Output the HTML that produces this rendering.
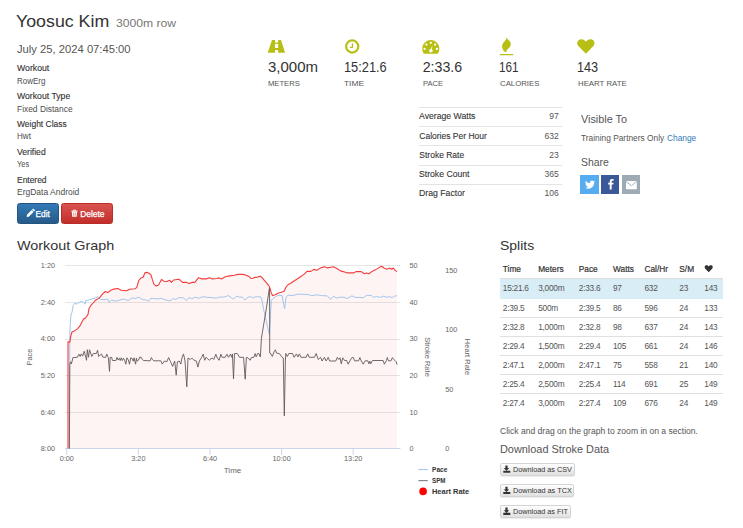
<!DOCTYPE html><html><head><meta charset="utf-8"><style>
html,body{margin:0;padding:0;background:#fff;width:743px;height:528px;overflow:hidden}
body{position:relative;font-family:"Liberation Sans",sans-serif}
.t{position:absolute;white-space:nowrap}
.a{position:absolute}
</style></head><body>
<div class="a" style="left:419px;top:107.0px;width:143px;height:1px;background:#e3e3e3"></div>
<div class="a" style="left:419px;top:126.2px;width:143px;height:1px;background:#e3e3e3"></div>
<div class="a" style="left:419px;top:145.4px;width:143px;height:1px;background:#e3e3e3"></div>
<div class="a" style="left:419px;top:164.5px;width:143px;height:1px;background:#e3e3e3"></div>
<div class="a" style="left:419px;top:184.0px;width:143px;height:1px;background:#e3e3e3"></div>
<div class="a" style="left:500px;top:277.7px;width:222.6px;height:1.3px;background:#ddd"></div>
<div class="a" style="left:500px;top:279px;width:222.6px;height:19.5px;background:#d9edf7"></div>
<div class="a" style="left:500px;top:316.8px;width:222.6px;height:1px;background:#e0e0e0"></div>
<div class="a" style="left:500px;top:336.0px;width:222.6px;height:1px;background:#e0e0e0"></div>
<div class="a" style="left:500px;top:354.9px;width:222.6px;height:1px;background:#e0e0e0"></div>
<div class="a" style="left:500px;top:373.9px;width:222.6px;height:1px;background:#e0e0e0"></div>
<div class="a" style="left:500px;top:392.8px;width:222.6px;height:1px;background:#e0e0e0"></div>
<div class="a" style="left:17px;top:203px;width:42px;height:21px;border-radius:2.5px;background:linear-gradient(#337ab7,#265a88);box-sizing:border-box;border:1px solid #245580"></div>
<div class="a" style="left:60.8px;top:203px;width:52.5px;height:21px;border-radius:2.5px;background:linear-gradient(#d9534f,#c12e2a);box-sizing:border-box;border:1px solid #b92c28"></div>
<div class="a" style="left:500.4px;top:462.5px;width:74.8px;height:13px;border-radius:2px;background:linear-gradient(#fff,#e0e0e0);box-sizing:border-box;border:1px solid #d4d4d4;box-shadow:0 1px 1px rgba(0,0,0,.08)"></div>
<div class="a" style="left:500.4px;top:483.8px;width:73.8px;height:13px;border-radius:2px;background:linear-gradient(#fff,#e0e0e0);box-sizing:border-box;border:1px solid #d4d4d4;box-shadow:0 1px 1px rgba(0,0,0,.08)"></div>
<div class="a" style="left:500.4px;top:504.6px;width:70.5px;height:13px;border-radius:2px;background:linear-gradient(#fff,#e0e0e0);box-sizing:border-box;border:1px solid #d4d4d4;box-shadow:0 1px 1px rgba(0,0,0,.08)"></div>
<div class="a" style="left:580.4px;top:175.3px;width:18.3px;height:18.3px;background:#55acee"></div>
<div class="a" style="left:601.1px;top:175.3px;width:18.3px;height:18.3px;background:#3b5998"></div>
<div class="a" style="left:622.2px;top:175.3px;width:18.3px;height:18.3px;background:#9eabb5"></div>
<svg class="a" style="left:0;top:0" width="743" height="528" viewBox="0 0 743 528">
<line x1="65" y1="265.5" x2="400.5" y2="265.5" stroke="#e6e6e6" stroke-width="1"/>
<line x1="65" y1="302.5" x2="400.5" y2="302.5" stroke="#e6e6e6" stroke-width="1"/>
<line x1="65" y1="339.5" x2="400.5" y2="339.5" stroke="#e6e6e6" stroke-width="1"/>
<line x1="65" y1="375.5" x2="400.5" y2="375.5" stroke="#e6e6e6" stroke-width="1"/>
<line x1="65" y1="412.5" x2="400.5" y2="412.5" stroke="#e6e6e6" stroke-width="1"/>
<polygon points="68.0,448.6 68.0,341.8 68.6,341.7 69.8,342.3 70.9,335.5 72.0,332.0 74.3,330.9 77.7,328.6 80.0,325.8 81.7,322.4 83.4,319.3 85.7,317.8 88.0,314.4 89.1,308.2 91.4,304.8 93.5,302.5 95.6,300.2 99.4,297.9 102.4,294.1 105.2,291.5 107.7,292.6 110.8,290.3 113.8,289.1 117.6,288.5 121.4,290.3 126.7,290.8 129.7,289.2 135.0,288.8 136.8,287.3 138.8,280.5 141.1,277.9 143.3,277.0 144.8,272.9 147.1,272.4 149.4,273.6 150.9,274.7 152.4,279.7 153.9,284.2 156.2,286.1 158.5,285.0 161.5,279.4 163.8,281.2 166.8,281.5 169.8,280.2 171.4,282.4 173.6,280.0 178.9,279.2 182.7,282.4 186.5,282.4 189.5,283.5 191.8,282.4 194.8,282.4 198.6,277.7 201.7,278.9 206.2,278.9 209.2,277.7 212.3,278.9 216.8,278.5 219.1,277.9 221.4,278.9 225.2,276.7 229.7,275.9 234.2,275.2 238.0,274.4 242.6,274.4 246.4,275.2 249.4,276.7 250.9,278.5 252.8,278.3 254.7,277.4 257.6,277.1 260.4,276.2 261.8,277.4 265.2,281.4 268.9,285.6 269.9,288.0 271.3,293.2 272.7,295.6 275.1,294.8 277.9,293.2 281.2,292.3 284.1,291.3 286.0,287.0 288.4,284.4 290.7,283.3 293.6,281.2 296.4,279.5 300.2,277.0 303.9,274.4 307.0,271.4 310.8,271.4 313.8,269.4 316.8,270.3 320.6,267.9 324.7,266.8 327.4,267.9 330.5,267.3 333.5,266.8 337.3,268.8 340.3,270.9 343.3,271.6 347.3,272.9 353.9,272.9 355.9,271.6 361.2,271.6 364.5,273.8 366.5,272.9 368.9,273.8 371.8,271.6 375.8,269.6 379.1,267.6 381.8,266.3 384.4,268.3 387.1,269.3 389.7,268.0 391.7,269.3 393.3,268.0 395.0,270.2 397.0,271.6 397.0,448.6 68.0,448.6" fill="rgb(240,0,0)" fill-opacity="0.045"/>
<line x1="65" y1="448.5" x2="400.5" y2="448.5" stroke="#ccd6eb" stroke-width="1"/>
<line x1="66.8" y1="448.6" x2="66.8" y2="455" stroke="#ccd6eb" stroke-width="1"/>
<line x1="138.4" y1="448.6" x2="138.4" y2="455" stroke="#ccd6eb" stroke-width="1"/>
<line x1="210" y1="448.6" x2="210" y2="455" stroke="#ccd6eb" stroke-width="1"/>
<line x1="281.6" y1="448.6" x2="281.6" y2="455" stroke="#ccd6eb" stroke-width="1"/>
<line x1="353.2" y1="448.6" x2="353.2" y2="455" stroke="#ccd6eb" stroke-width="1"/>
<polyline points="69.2,449.0 69.8,335.5 70.3,324.1 70.9,315.0 72.0,312.2 72.6,309.3 73.2,305.3 74.9,303.1 76.6,304.2 78.3,303.1 81.1,301.6 84.0,302.3 85.1,304.2 85.7,300.8 89.1,300.0 91.8,299.1 95.6,297.9 97.9,296.7 100.2,299.4 104.0,299.7 107.7,299.1 109.2,302.1 111.5,300.2 116.0,301.2 120.6,299.7 124.4,299.1 128.2,300.6 132.0,297.9 135.8,298.6 138.0,297.1 141.1,298.6 143.3,299.7 145.6,299.7 148.6,301.2 150.9,298.2 153.9,298.6 157.7,298.9 161.5,298.3 165.3,299.8 169.8,300.9 173.6,298.6 175.9,299.4 178.9,297.6 183.5,297.9 186.5,300.6 188.8,297.6 191.8,298.6 195.6,297.1 198.6,298.3 203.2,296.7 207.7,297.4 212.3,297.6 216.1,298.2 219.1,297.1 223.6,297.1 228.2,295.6 230.5,297.1 233.5,299.1 236.5,296.1 239.5,297.1 242.6,297.1 245.2,300.2 247.9,297.1 250.9,296.8 252.4,297.9 254.7,297.0 257.6,296.7 260.9,297.0 262.3,302.2 263.7,309.8 265.2,316.4 269.4,334.8 271.3,300.3 273.2,298.4 275.6,296.5 278.4,295.4 282.2,295.6 283.1,301.3 284.6,308.8 286.0,297.5 287.9,295.1 291.1,295.6 294.1,295.2 297.9,294.1 307.7,294.5 311.5,295.6 316.8,294.8 321.4,295.6 327.4,295.9 330.5,299.4 333.2,296.4 336.5,297.9 341.8,297.1 344.0,297.4 347.3,298.5 351.9,295.8 355.2,297.4 359.9,297.4 363.2,297.8 366.5,295.4 371.2,295.4 373.8,297.4 376.5,296.5 380.4,297.4 383.7,296.1 386.4,297.2 389.7,296.8 392.4,297.4 394.4,296.1 397.0,295.8" fill="none" stroke="#a3c6ee" stroke-width="1" stroke-linejoin="round"/>
<polyline points="69.4,448.6 69.8,364.0 70.6,361.8 71.4,364.0 72.9,357.6 77.4,357.3 78.9,354.2 80.2,356.5 81.2,353.9 82.7,356.1 84.2,351.2 85.8,357.3 86.5,360.3 87.3,349.7 88.5,357.3 89.5,349.7 91.8,356.5 93.3,353.5 96.4,353.5 97.6,350.2 98.6,356.5 100.0,355.2 101.5,354.0 102.7,357.0 105.7,357.4 106.8,354.0 107.6,356.3 108.3,357.4 109.5,371.4 110.2,357.4 111.7,357.4 112.5,360.5 115.9,360.5 117.0,357.4 118.2,360.1 119.3,358.2 120.3,360.5 121.2,357.8 122.3,360.5 123.5,358.2 124.6,360.1 125.8,364.2 126.9,357.8 128.4,360.1 129.5,364.2 130.7,357.8 132.2,358.6 133.3,361.2 134.1,357.8 134.8,361.2 135.6,364.2 136.4,358.2 137.1,361.2 138.6,360.1 139.8,357.0 141.3,357.4 142.4,359.7 143.6,360.5 150.2,360.8 151.4,357.6 152.4,359.5 153.9,360.8 160.8,360.8 162.3,364.1 164.5,361.0 166.8,361.8 168.6,357.6 170.6,361.8 172.6,366.4 174.7,361.0 176.2,375.2 177.4,361.8 179.2,361.0 180.8,364.1 182.0,357.6 183.5,353.9 185.0,361.0 186.8,386.8 188.0,358.0 190.3,359.5 191.8,358.0 194.1,360.3 196.4,361.0 197.9,367.1 199.4,361.0 201.7,357.3 203.2,354.2 204.7,360.3 206.2,357.3 209.2,360.3 210.0,359.5 212.3,358.0 213.8,359.5 215.8,354.2 217.3,358.0 219.1,360.3 220.9,354.2 222.1,357.3 225.2,357.3 227.0,354.2 228.5,357.3 230.5,354.2 231.7,357.3 232.4,353.9 233.5,378.8 234.5,353.5 237.3,353.5 239.5,357.3 243.6,357.3 245.2,379.2 246.4,357.3 248.2,358.0 250.2,360.3 251.2,357.7 253.8,357.3 255.2,353.6 256.2,356.9 257.6,353.6 259.0,353.6 259.9,356.4 260.4,356.9 261.4,338.4 266.1,310.0 269.5,287.5 269.7,320.0 269.7,353.1 270.8,353.6 272.3,356.4 274.1,351.7 275.4,349.8 276.5,353.1 279.4,353.6 281.7,356.9 283.3,358.0 284.3,415.8 285.4,360.0 285.8,353.5 287.3,356.5 288.8,353.5 292.6,353.5 294.1,357.3 296.4,353.9 297.9,357.0 299.4,353.9 300.9,357.3 306.2,357.3 307.7,353.9 309.2,357.3 314.5,357.3 316.1,353.5 318.3,359.5 320.6,357.3 322.1,361.0 324.4,357.3 326.2,361.0 328.2,357.3 329.7,361.0 335.8,361.0 337.3,357.3 338.8,359.5 340.0,357.8 341.3,363.8 342.7,357.8 344.6,360.5 346.6,360.5 348.2,364.2 349.9,360.8 351.9,357.6 353.3,357.6 354.6,360.8 358.6,360.8 359.9,357.6 361.2,360.8 363.2,364.2 365.2,360.8 367.8,360.8 368.9,363.8 369.8,361.2 370.8,363.8 372.5,360.5 383.1,360.5 384.4,364.2 386.4,360.5 387.3,357.6 388.4,360.8 391.0,360.8 392.4,357.6 393.7,359.4 395.0,360.5 396.3,361.8 397.0,364.5" fill="none" stroke="#5f5a5b" stroke-width="0.9" stroke-linejoin="round"/>
<polyline points="68.0,448.6 68.0,341.8 68.6,341.7 69.8,342.3 70.9,335.5 72.0,332.0 74.3,330.9 77.7,328.6 80.0,325.8 81.7,322.4 83.4,319.3 85.7,317.8 88.0,314.4 89.1,308.2 91.4,304.8 93.5,302.5 95.6,300.2 99.4,297.9 102.4,294.1 105.2,291.5 107.7,292.6 110.8,290.3 113.8,289.1 117.6,288.5 121.4,290.3 126.7,290.8 129.7,289.2 135.0,288.8 136.8,287.3 138.8,280.5 141.1,277.9 143.3,277.0 144.8,272.9 147.1,272.4 149.4,273.6 150.9,274.7 152.4,279.7 153.9,284.2 156.2,286.1 158.5,285.0 161.5,279.4 163.8,281.2 166.8,281.5 169.8,280.2 171.4,282.4 173.6,280.0 178.9,279.2 182.7,282.4 186.5,282.4 189.5,283.5 191.8,282.4 194.8,282.4 198.6,277.7 201.7,278.9 206.2,278.9 209.2,277.7 212.3,278.9 216.8,278.5 219.1,277.9 221.4,278.9 225.2,276.7 229.7,275.9 234.2,275.2 238.0,274.4 242.6,274.4 246.4,275.2 249.4,276.7 250.9,278.5 252.8,278.3 254.7,277.4 257.6,277.1 260.4,276.2 261.8,277.4 265.2,281.4 268.9,285.6 269.9,288.0 271.3,293.2 272.7,295.6 275.1,294.8 277.9,293.2 281.2,292.3 284.1,291.3 286.0,287.0 288.4,284.4 290.7,283.3 293.6,281.2 296.4,279.5 300.2,277.0 303.9,274.4 307.0,271.4 310.8,271.4 313.8,269.4 316.8,270.3 320.6,267.9 324.7,266.8 327.4,267.9 330.5,267.3 333.5,266.8 337.3,268.8 340.3,270.9 343.3,271.6 347.3,272.9 353.9,272.9 355.9,271.6 361.2,271.6 364.5,273.8 366.5,272.9 368.9,273.8 371.8,271.6 375.8,269.6 379.1,267.6 381.8,266.3 384.4,268.3 387.1,269.3 389.7,268.0 391.7,269.3 393.3,268.0 395.0,270.2 397.0,271.6" fill="none" stroke="#f43c3c" stroke-width="1.1" stroke-linejoin="round"/>
<line x1="418.4" y1="469.6" x2="427.8" y2="469.6" stroke="#9dc3ec" stroke-width="1"/>
<line x1="418.4" y1="480.6" x2="427.8" y2="480.6" stroke="#888" stroke-width="1.2"/>
<circle cx="423.1" cy="491.4" r="3.8" fill="#f00"/>
<polygon points="272,40 281,40 285.1,52.7 267.7,52.7" fill="#b8bf14"/>
<rect x="275" y="39.8" width="3.1" height="2.700000000000003" fill="#fff"/>
<rect x="275" y="43.9" width="3.1" height="4.100000000000001" fill="#fff"/>
<rect x="275" y="50.1" width="3.1" height="2.8999999999999986" fill="#fff"/>
<circle cx="352.2" cy="46.5" r="6.1" fill="none" stroke="#b8bf14" stroke-width="2.2"/>
<path d="M352.4 43.2 V47.4 H349.9" fill="none" stroke="#b8bf14" stroke-width="1.2"/>
<path d="M423.8 53.7 A8.6 8.6 0 1 1 437.8 53.7 Z" fill="#b8bf14"/>
<circle cx="430.8" cy="42.8" r="1.15" fill="#fff"/>
<circle cx="426.4" cy="44.6" r="1.15" fill="#fff"/>
<circle cx="435.1" cy="44.6" r="1.15" fill="#fff"/>
<circle cx="424.6" cy="48.9" r="1.15" fill="#fff"/>
<circle cx="436.9" cy="48.9" r="1.15" fill="#fff"/>
<path d="M432.6 45.2 L431.6 50 L430.2 50 Z" fill="#fff"/><circle cx="430.9" cy="50.8" r="1.8" fill="#fff"/>
<polygon points="506.34,37.99 508.53,39.98 510.32,42.36 510.72,44.35 510.12,46.54 508.53,48.33 506.94,49.72 506.22,50.79 506.54,52.30 504.95,51.71 503.16,49.92 502.17,47.53 502.25,45.15 503.36,42.76 505.15,40.77 506.07,39.58" fill="#b8bf14" stroke="#b8bf14" stroke-width="0.2" stroke-linejoin="round"/>
<line x1="500.2" y1="54.6" x2="512.8" y2="54.6" stroke="#b8bf14" stroke-width="1.2" stroke-linecap="round"/>
<path d="M585.9 53.7 L578.6 46.3 C576.4 44 577 40.4 579.9 39.4 C582.3 38.6 584.6 39.8 585.9 41.8 C587.2 39.8 589.5 38.6 591.9 39.4 C594.8 40.4 595.4 44 593.2 46.3 Z" fill="#b8bf14"/>
<path d="M708.7 272.2 L705.3 268.8 C704.2 267.7 704.5 265.8 705.9 265.3 C707 264.9 708.1 265.5 708.7 266.4 C709.3 265.5 710.4 264.9 711.5 265.3 C712.9 265.8 713.2 267.7 712.1 268.8 Z" fill="#333"/>
<g transform="translate(589.9,184.7) scale(0.75) translate(-588.25,-184.15)"><path d="M595.2 179.9 c-.5.2-1 .4-1.6.4 .6-.3 1-.9 1.2-1.5 -.5.3-1.1.5-1.7.7 -.5-.5-1.2-.9-2-.9 -1.5 0-2.8 1.2-2.8 2.8 0 .2 0 .4.1.6 -2.3-.1-4.3-1.2-5.7-2.9 -.2.4-.4.9-.4 1.4 0 1 .5 1.8 1.2 2.3 -.5 0-.9-.1-1.3-.3 0 1.4 1 2.5 2.2 2.7 -.2.1-.5.1-.7.1 -.2 0-.4 0-.5-.1 .4 1.1 1.4 1.9 2.6 1.9 -1 .7-2.2 1.2-3.5 1.2 -.2 0-.5 0-.7 0 1.2.8 2.7 1.2 4.3 1.2 5.2 0 8-4.3 8-8 0-.1 0-.2 0-.4 .6-.4 1-.9 1.4-1.4z" fill="#fff"/></g>
<g transform="translate(610.7,184.2) scale(0.84) translate(-610.45,-184.3)"><path d="M611.6 190.6 V184.8 H613.5 L613.8 182.6 H611.6 V181.2 C611.6 180.6 611.8 180.1 612.7 180.1 H613.9 V178.1 C613.7 178.1 613 178 612.2 178 C610.5 178 609.3 179 609.3 180.9 V182.6 H607.4 V184.8 H609.3 V190.6 Z" fill="#fff"/></g>
<rect x="626" y="181" width="10.8" height="8.2" rx="0.6" fill="#fff"/><path d="M626 181.5 L631.4 185.7 L636.8 181.5" fill="none" stroke="#9eabb5" stroke-width="0.9"/>
<g transform="rotate(-45 30.2 213.4)"><path d="M25.2 213.4 L26.9 212.1 H33.6 V214.7 H26.9 Z" fill="#fff"/><rect x="34.2" y="212.1" width="1.6" height="2.6" rx="0.4" fill="#fff"/></g>
<path d="M71.3 211.1 H77.6 M73.3 211 V210.1 H75.6 V211" fill="none" stroke="#fff" stroke-width="0.9"/><path d="M71.8 211.4 H77.1 L76.7 216.8 H72.2 Z" fill="#fff"/><path d="M73.6 212.6 V215.8 M75.3 212.6 V215.8" stroke="#d0403c" stroke-width="0.55"/>
<path d="M505.4 465.5 h2.2 v2.6 h1.6 l-2.7 2.7 l-2.7 -2.7 h1.6 Z M503.3 470.7 h7 v2.1 h-7 Z" fill="#333"/>
<path d="M505.4 486.8 h2.2 v2.6 h1.6 l-2.7 2.7 l-2.7 -2.7 h1.6 Z M503.3 492.0 h7 v2.1 h-7 Z" fill="#333"/>
<path d="M505.4 507.6 h2.2 v2.6 h1.6 l-2.7 2.7 l-2.7 -2.7 h1.6 Z M503.3 512.8 h7 v2.1 h-7 Z" fill="#333"/>
</svg>
<div class="t" id="t0" style="top:13.00px;font-size:17px;line-height:17px;color:#333;font-weight:400;left:15.95px;transform:scaleX(1.0455);transform-origin:0 0;">Yoosuc Kim</div>
<div class="t" id="t1" style="top:18.00px;font-size:11px;line-height:11px;color:#777;font-weight:400;left:115.90px;transform:scaleX(1.1055);transform-origin:0 0;">3000m row</div>
<div class="t" id="t2" style="top:44.00px;font-size:10.8px;line-height:10.8px;color:#555;font-weight:400;left:16.60px;transform:scaleX(1.0394);transform-origin:0 0;">July 25, 2024 07:45:00</div>
<div class="t" id="t3" style="top:64.00px;font-size:8.3px;line-height:8.3px;color:#333;font-weight:400;left:16.50px;transform:scaleX(1.0484);transform-origin:0 0;-webkit-text-stroke:0.12px #333;">Workout</div>
<div class="t" id="t4" style="top:77.00px;font-size:8.3px;line-height:8.3px;color:#4d4d4d;font-weight:400;left:16.50px;transform:scaleX(0.96);transform-origin:0 0;">RowErg</div>
<div class="t" id="t5" style="top:92.00px;font-size:8.3px;line-height:8.3px;color:#333;font-weight:400;left:16.50px;transform:scaleX(1.0471);transform-origin:0 0;-webkit-text-stroke:0.12px #333;">Workout Type</div>
<div class="t" id="t6" style="top:105.00px;font-size:8.3px;line-height:8.3px;color:#4d4d4d;font-weight:400;left:16.50px;transform:scaleX(1.0127);transform-origin:0 0;">Fixed Distance</div>
<div class="t" id="t7" style="top:120.00px;font-size:8.3px;line-height:8.3px;color:#333;font-weight:400;left:16.50px;transform:scaleX(1.0204);transform-origin:0 0;-webkit-text-stroke:0.12px #333;">Weight Class</div>
<div class="t" id="t8" style="top:132.00px;font-size:8.3px;line-height:8.3px;color:#4d4d4d;font-weight:400;left:16.50px;transform:scaleX(0.9733);transform-origin:0 0;">Hwt</div>
<div class="t" id="t9" style="top:148.00px;font-size:8.3px;line-height:8.3px;color:#333;font-weight:400;left:16.50px;transform:scaleX(1.0357);transform-origin:0 0;-webkit-text-stroke:0.12px #333;">Verified</div>
<div class="t" id="t10" style="top:160.00px;font-size:8.3px;line-height:8.3px;color:#4d4d4d;font-weight:400;left:16.50px;transform:scaleX(0.8929);transform-origin:0 0;">Yes</div>
<div class="t" id="t11" style="top:176.00px;font-size:8.3px;line-height:8.3px;color:#333;font-weight:400;left:16.50px;transform:scaleX(1.0172);transform-origin:0 0;-webkit-text-stroke:0.12px #333;">Entered</div>
<div class="t" id="t12" style="top:188.00px;font-size:8.3px;line-height:8.3px;color:#4d4d4d;font-weight:400;left:16.50px;transform:scaleX(1.023);transform-origin:0 0;">ErgData Android</div>
<div class="t" id="t13" style="top:60.00px;font-size:14.2px;line-height:14.2px;color:#333;font-weight:400;left:267.70px;transform:scaleX(1.0574);transform-origin:0 0;">3,000m</div>
<div class="t" id="t14" style="top:80.00px;font-size:8px;line-height:8px;color:#555;font-weight:400;left:267.70px;transform:scaleX(0.9545);transform-origin:0 0;">METERS</div>
<div class="t" id="t15" style="top:60.00px;font-size:14.2px;line-height:14.2px;color:#333;font-weight:400;left:344.20px;transform:scaleX(0.9022);transform-origin:0 0;">15:21.6</div>
<div class="t" id="t16" style="top:80.00px;font-size:8px;line-height:8px;color:#555;font-weight:400;left:344.06px;transform:scaleX(1.0444);transform-origin:0 0;">TIME</div>
<div class="t" id="t17" style="top:60.00px;font-size:14.2px;line-height:14.2px;color:#333;font-weight:400;left:422.70px;">2:33.6</div>
<div class="t" id="t18" style="top:80.00px;font-size:8px;line-height:8px;color:#555;font-weight:400;left:422.70px;transform:scaleX(0.9476);transform-origin:0 0;">PACE</div>
<div class="t" id="t19" style="top:60.00px;font-size:14.2px;line-height:14.2px;color:#333;font-weight:400;left:499.17px;transform:scaleX(0.8273);transform-origin:0 0;">161</div>
<div class="t" id="t20" style="top:80.00px;font-size:8px;line-height:8px;color:#555;font-weight:400;left:500.00px;transform:scaleX(0.975);transform-origin:0 0;">CALORIES</div>
<div class="t" id="t21" style="top:60.00px;font-size:14.2px;line-height:14.2px;color:#333;font-weight:400;left:576.81px;transform:scaleX(0.8913);transform-origin:0 0;">143</div>
<div class="t" id="t22" style="top:80.00px;font-size:8px;line-height:8px;color:#555;font-weight:400;left:577.70px;transform:scaleX(0.978);transform-origin:0 0;">HEART RATE</div>
<div class="t" id="t23" style="top:112.00px;font-size:8.5px;line-height:8.5px;color:#333;font-weight:400;left:419.30px;transform:scaleX(1.02);transform-origin:0 0;-webkit-text-stroke:0.1px #333;">Average Watts</div>
<div class="t" id="t24" style="top:112.00px;font-size:8.5px;line-height:8.5px;color:#555;font-weight:400;right:184.30px;">97</div>
<div class="t" id="t25" style="top:132.00px;font-size:8.5px;line-height:8.5px;color:#333;font-weight:400;left:419.30px;-webkit-text-stroke:0.1px #333;">Calories Per Hour</div>
<div class="t" id="t26" style="top:132.00px;font-size:8.5px;line-height:8.5px;color:#555;font-weight:400;right:184.30px;">632</div>
<div class="t" id="t27" style="top:151.00px;font-size:8.5px;line-height:8.5px;color:#333;font-weight:400;left:419.30px;-webkit-text-stroke:0.1px #333;">Stroke Rate</div>
<div class="t" id="t28" style="top:151.00px;font-size:8.5px;line-height:8.5px;color:#555;font-weight:400;right:184.30px;">23</div>
<div class="t" id="t29" style="top:170.00px;font-size:8.5px;line-height:8.5px;color:#333;font-weight:400;left:419.30px;transform:scaleX(1.018);transform-origin:0 0;-webkit-text-stroke:0.1px #333;">Stroke Count</div>
<div class="t" id="t30" style="top:170.00px;font-size:8.5px;line-height:8.5px;color:#555;font-weight:400;right:184.30px;">365</div>
<div class="t" id="t31" style="top:189.00px;font-size:8.5px;line-height:8.5px;color:#333;font-weight:400;left:419.30px;transform:scaleX(1.0222);transform-origin:0 0;-webkit-text-stroke:0.1px #333;">Drag Factor</div>
<div class="t" id="t32" style="top:189.00px;font-size:8.5px;line-height:8.5px;color:#555;font-weight:400;right:184.30px;">106</div>
<div class="t" id="t33" style="top:114.00px;font-size:10.5px;line-height:10.5px;color:#555;font-weight:400;left:580.70px;transform:scaleX(1.0311);transform-origin:0 0;">Visible To</div>
<div class="t" id="t34" style="top:134.00px;font-size:8.3px;line-height:8.3px;color:#555;font-weight:400;left:580.70px;transform:scaleX(1.006);transform-origin:0 0;">Training Partners Only</div>
<div class="t" id="t35" style="top:134.00px;font-size:8.3px;line-height:8.3px;color:#337ab7;font-weight:400;left:666.70px;transform:scaleX(1.0069);transform-origin:0 0;">Change</div>
<div class="t" id="t36" style="top:157.00px;font-size:10.5px;line-height:10.5px;color:#555;font-weight:400;left:580.70px;transform:scaleX(0.9964);transform-origin:0 0;">Share</div>
<div class="t" id="t37" style="top:239.00px;font-size:13.5px;line-height:13.5px;color:#333;font-weight:400;left:17.30px;transform:scaleX(1.0648);transform-origin:0 0;">Workout Graph</div>
<div class="t" id="t38" style="top:239.00px;font-size:13.5px;line-height:13.5px;color:#333;font-weight:400;left:500.20px;transform:scaleX(1.0364);transform-origin:0 0;">Splits</div>
<div class="t" id="t39" style="top:265.00px;font-size:8.3px;line-height:8.3px;color:#333;font-weight:400;left:502.80px;-webkit-text-stroke:0.2px #333;">Time</div>
<div class="t" id="t40" style="top:265.00px;font-size:8.3px;line-height:8.3px;color:#333;font-weight:400;left:538.20px;-webkit-text-stroke:0.2px #333;">Meters</div>
<div class="t" id="t41" style="top:265.00px;font-size:8.3px;line-height:8.3px;color:#333;font-weight:400;left:578.80px;-webkit-text-stroke:0.2px #333;">Pace</div>
<div class="t" id="t42" style="top:265.00px;font-size:8.3px;line-height:8.3px;color:#333;font-weight:400;left:613.00px;-webkit-text-stroke:0.2px #333;">Watts</div>
<div class="t" id="t43" style="top:265.00px;font-size:8.3px;line-height:8.3px;color:#333;font-weight:400;left:644.50px;-webkit-text-stroke:0.2px #333;">Cal/Hr</div>
<div class="t" id="t44" style="top:265.00px;font-size:8.3px;line-height:8.3px;color:#333;font-weight:400;left:679.30px;-webkit-text-stroke:0.2px #333;">S/M</div>
<div class="t" id="t45" style="top:284.00px;font-size:8.3px;line-height:8.3px;color:#555;font-weight:400;letter-spacing:-0.250px;left:502.80px;">15:21.6</div>
<div class="t" id="t46" style="top:284.00px;font-size:8.3px;line-height:8.3px;color:#555;font-weight:400;letter-spacing:-0.250px;left:538.20px;">3,000m</div>
<div class="t" id="t47" style="top:284.00px;font-size:8.3px;line-height:8.3px;color:#555;font-weight:400;letter-spacing:-0.250px;left:578.80px;">2:33.6</div>
<div class="t" id="t48" style="top:284.00px;font-size:8.3px;line-height:8.3px;color:#555;font-weight:400;letter-spacing:-0.250px;left:613.00px;">97</div>
<div class="t" id="t49" style="top:284.00px;font-size:8.3px;line-height:8.3px;color:#555;font-weight:400;letter-spacing:-0.250px;left:644.50px;">632</div>
<div class="t" id="t50" style="top:284.00px;font-size:8.3px;line-height:8.3px;color:#555;font-weight:400;letter-spacing:-0.250px;left:679.30px;">23</div>
<div class="t" id="t51" style="top:284.00px;font-size:8.3px;line-height:8.3px;color:#555;font-weight:400;letter-spacing:-0.250px;left:704.30px;">143</div>
<div class="t" id="t52" style="top:304.00px;font-size:8.3px;line-height:8.3px;color:#555;font-weight:400;letter-spacing:-0.250px;left:502.80px;">2:39.5</div>
<div class="t" id="t53" style="top:304.00px;font-size:8.3px;line-height:8.3px;color:#555;font-weight:400;letter-spacing:-0.250px;left:538.20px;">500m</div>
<div class="t" id="t54" style="top:304.00px;font-size:8.3px;line-height:8.3px;color:#555;font-weight:400;letter-spacing:-0.250px;left:578.80px;">2:39.5</div>
<div class="t" id="t55" style="top:304.00px;font-size:8.3px;line-height:8.3px;color:#555;font-weight:400;letter-spacing:-0.250px;left:613.00px;">86</div>
<div class="t" id="t56" style="top:304.00px;font-size:8.3px;line-height:8.3px;color:#555;font-weight:400;letter-spacing:-0.250px;left:644.50px;">596</div>
<div class="t" id="t57" style="top:304.00px;font-size:8.3px;line-height:8.3px;color:#555;font-weight:400;letter-spacing:-0.250px;left:679.30px;">24</div>
<div class="t" id="t58" style="top:304.00px;font-size:8.3px;line-height:8.3px;color:#555;font-weight:400;letter-spacing:-0.250px;left:704.30px;">133</div>
<div class="t" id="t59" style="top:323.00px;font-size:8.3px;line-height:8.3px;color:#555;font-weight:400;letter-spacing:-0.250px;left:502.80px;">2:32.8</div>
<div class="t" id="t60" style="top:323.00px;font-size:8.3px;line-height:8.3px;color:#555;font-weight:400;letter-spacing:-0.250px;left:538.20px;">1,000m</div>
<div class="t" id="t61" style="top:323.00px;font-size:8.3px;line-height:8.3px;color:#555;font-weight:400;letter-spacing:-0.250px;left:578.80px;">2:32.8</div>
<div class="t" id="t62" style="top:323.00px;font-size:8.3px;line-height:8.3px;color:#555;font-weight:400;letter-spacing:-0.250px;left:613.00px;">98</div>
<div class="t" id="t63" style="top:323.00px;font-size:8.3px;line-height:8.3px;color:#555;font-weight:400;letter-spacing:-0.250px;left:644.50px;">637</div>
<div class="t" id="t64" style="top:323.00px;font-size:8.3px;line-height:8.3px;color:#555;font-weight:400;letter-spacing:-0.250px;left:679.30px;">24</div>
<div class="t" id="t65" style="top:323.00px;font-size:8.3px;line-height:8.3px;color:#555;font-weight:400;letter-spacing:-0.250px;left:704.30px;">143</div>
<div class="t" id="t66" style="top:342.00px;font-size:8.3px;line-height:8.3px;color:#555;font-weight:400;letter-spacing:-0.250px;left:502.80px;">2:29.4</div>
<div class="t" id="t67" style="top:342.00px;font-size:8.3px;line-height:8.3px;color:#555;font-weight:400;letter-spacing:-0.250px;left:538.20px;">1,500m</div>
<div class="t" id="t68" style="top:342.00px;font-size:8.3px;line-height:8.3px;color:#555;font-weight:400;letter-spacing:-0.250px;left:578.80px;">2:29.4</div>
<div class="t" id="t69" style="top:342.00px;font-size:8.3px;line-height:8.3px;color:#555;font-weight:400;letter-spacing:-0.250px;left:613.00px;">105</div>
<div class="t" id="t70" style="top:342.00px;font-size:8.3px;line-height:8.3px;color:#555;font-weight:400;letter-spacing:-0.250px;left:644.50px;">661</div>
<div class="t" id="t71" style="top:342.00px;font-size:8.3px;line-height:8.3px;color:#555;font-weight:400;letter-spacing:-0.250px;left:679.30px;">24</div>
<div class="t" id="t72" style="top:342.00px;font-size:8.3px;line-height:8.3px;color:#555;font-weight:400;letter-spacing:-0.250px;left:704.30px;">146</div>
<div class="t" id="t73" style="top:361.00px;font-size:8.3px;line-height:8.3px;color:#555;font-weight:400;letter-spacing:-0.250px;left:502.80px;">2:47.1</div>
<div class="t" id="t74" style="top:361.00px;font-size:8.3px;line-height:8.3px;color:#555;font-weight:400;letter-spacing:-0.250px;left:538.20px;">2,000m</div>
<div class="t" id="t75" style="top:361.00px;font-size:8.3px;line-height:8.3px;color:#555;font-weight:400;letter-spacing:-0.250px;left:578.80px;">2:47.1</div>
<div class="t" id="t76" style="top:361.00px;font-size:8.3px;line-height:8.3px;color:#555;font-weight:400;letter-spacing:-0.250px;left:613.00px;">75</div>
<div class="t" id="t77" style="top:361.00px;font-size:8.3px;line-height:8.3px;color:#555;font-weight:400;letter-spacing:-0.250px;left:644.50px;">558</div>
<div class="t" id="t78" style="top:361.00px;font-size:8.3px;line-height:8.3px;color:#555;font-weight:400;letter-spacing:-0.250px;left:679.30px;">21</div>
<div class="t" id="t79" style="top:361.00px;font-size:8.3px;line-height:8.3px;color:#555;font-weight:400;letter-spacing:-0.250px;left:704.30px;">140</div>
<div class="t" id="t80" style="top:380.00px;font-size:8.3px;line-height:8.3px;color:#555;font-weight:400;letter-spacing:-0.250px;left:502.80px;">2:25.4</div>
<div class="t" id="t81" style="top:380.00px;font-size:8.3px;line-height:8.3px;color:#555;font-weight:400;letter-spacing:-0.250px;left:538.20px;">2,500m</div>
<div class="t" id="t82" style="top:380.00px;font-size:8.3px;line-height:8.3px;color:#555;font-weight:400;letter-spacing:-0.250px;left:578.80px;">2:25.4</div>
<div class="t" id="t83" style="top:380.00px;font-size:8.3px;line-height:8.3px;color:#555;font-weight:400;letter-spacing:-0.250px;left:613.00px;">114</div>
<div class="t" id="t84" style="top:380.00px;font-size:8.3px;line-height:8.3px;color:#555;font-weight:400;letter-spacing:-0.250px;left:644.50px;">691</div>
<div class="t" id="t85" style="top:380.00px;font-size:8.3px;line-height:8.3px;color:#555;font-weight:400;letter-spacing:-0.250px;left:679.30px;">25</div>
<div class="t" id="t86" style="top:380.00px;font-size:8.3px;line-height:8.3px;color:#555;font-weight:400;letter-spacing:-0.250px;left:704.30px;">149</div>
<div class="t" id="t87" style="top:399.00px;font-size:8.3px;line-height:8.3px;color:#555;font-weight:400;letter-spacing:-0.250px;left:502.80px;">2:27.4</div>
<div class="t" id="t88" style="top:399.00px;font-size:8.3px;line-height:8.3px;color:#555;font-weight:400;letter-spacing:-0.250px;left:538.20px;">3,000m</div>
<div class="t" id="t89" style="top:399.00px;font-size:8.3px;line-height:8.3px;color:#555;font-weight:400;letter-spacing:-0.250px;left:578.80px;">2:27.4</div>
<div class="t" id="t90" style="top:399.00px;font-size:8.3px;line-height:8.3px;color:#555;font-weight:400;letter-spacing:-0.250px;left:613.00px;">109</div>
<div class="t" id="t91" style="top:399.00px;font-size:8.3px;line-height:8.3px;color:#555;font-weight:400;letter-spacing:-0.250px;left:644.50px;">676</div>
<div class="t" id="t92" style="top:399.00px;font-size:8.3px;line-height:8.3px;color:#555;font-weight:400;letter-spacing:-0.250px;left:679.30px;">24</div>
<div class="t" id="t93" style="top:399.00px;font-size:8.3px;line-height:8.3px;color:#555;font-weight:400;letter-spacing:-0.250px;left:704.30px;">149</div>
<div class="t" id="t94" style="top:427.00px;font-size:8.3px;line-height:8.3px;color:#555;font-weight:400;left:500.10px;transform:scaleX(1.0319);transform-origin:0 0;">Click and drag on the graph to zoom in on a section.</div>
<div class="t" id="t95" style="top:444.00px;font-size:11px;line-height:11px;color:#555;font-weight:400;left:500.20px;transform:scaleX(0.9909);transform-origin:0 0;">Download Stroke Data</div>
<div class="t" id="t96" style="top:466.00px;font-size:7px;line-height:7px;color:#333;font-weight:400;left:512.60px;transform:scaleX(1.0351);transform-origin:0 0;">Download as CSV</div>
<div class="t" id="t97" style="top:487.00px;font-size:7px;line-height:7px;color:#333;font-weight:400;left:512.60px;transform:scaleX(1.0446);transform-origin:0 0;">Download as TCX</div>
<div class="t" id="t98" style="top:508.00px;font-size:7px;line-height:7px;color:#333;font-weight:400;left:512.60px;transform:scaleX(1.0377);transform-origin:0 0;">Download as FIT</div>
<div class="t" id="t99" style="top:262.00px;font-size:7.3px;line-height:7.3px;color:#666;font-weight:400;right:688.00px;">1:20</div>
<div class="t" id="t100" style="top:299.00px;font-size:7.3px;line-height:7.3px;color:#666;font-weight:400;right:688.00px;">2:40</div>
<div class="t" id="t101" style="top:335.00px;font-size:7.3px;line-height:7.3px;color:#666;font-weight:400;right:688.00px;">4:00</div>
<div class="t" id="t102" style="top:372.00px;font-size:7.3px;line-height:7.3px;color:#666;font-weight:400;right:688.00px;">5:20</div>
<div class="t" id="t103" style="top:409.00px;font-size:7.3px;line-height:7.3px;color:#666;font-weight:400;right:688.00px;">6:40</div>
<div class="t" id="t104" style="top:445.00px;font-size:7.3px;line-height:7.3px;color:#666;font-weight:400;right:688.00px;">8:00</div>
<div class="t" id="t105" style="top:262.00px;font-size:7.3px;line-height:7.3px;color:#666;font-weight:400;left:409.50px;">50</div>
<div class="t" id="t106" style="top:299.00px;font-size:7.3px;line-height:7.3px;color:#666;font-weight:400;left:409.50px;">40</div>
<div class="t" id="t107" style="top:335.00px;font-size:7.3px;line-height:7.3px;color:#666;font-weight:400;left:409.50px;">30</div>
<div class="t" id="t108" style="top:372.00px;font-size:7.3px;line-height:7.3px;color:#666;font-weight:400;left:409.50px;">20</div>
<div class="t" id="t109" style="top:409.00px;font-size:7.3px;line-height:7.3px;color:#666;font-weight:400;left:409.50px;">10</div>
<div class="t" id="t110" style="top:445.00px;font-size:7.3px;line-height:7.3px;color:#666;font-weight:400;left:409.50px;">0</div>
<div class="t" id="t111" style="top:267.00px;font-size:7.3px;line-height:7.3px;color:#666;font-weight:400;left:445.20px;">150</div>
<div class="t" id="t112" style="top:326.00px;font-size:7.3px;line-height:7.3px;color:#666;font-weight:400;left:445.20px;">100</div>
<div class="t" id="t113" style="top:386.00px;font-size:7.3px;line-height:7.3px;color:#666;font-weight:400;left:445.20px;">50</div>
<div class="t" id="t114" style="top:445.00px;font-size:7.3px;line-height:7.3px;color:#666;font-weight:400;left:445.20px;">0</div>
<div class="t" id="t115" style="top:455.00px;font-size:7.3px;line-height:7.3px;color:#666;font-weight:400;left:66.80px;transform:translateX(-50%);">0:00</div>
<div class="t" id="t116" style="top:455.00px;font-size:7.3px;line-height:7.3px;color:#666;font-weight:400;left:138.40px;transform:translateX(-50%);">3:20</div>
<div class="t" id="t117" style="top:455.00px;font-size:7.3px;line-height:7.3px;color:#666;font-weight:400;left:210.00px;transform:translateX(-50%);">6:40</div>
<div class="t" id="t118" style="top:455.00px;font-size:7.3px;line-height:7.3px;color:#666;font-weight:400;left:281.60px;transform:translateX(-50%);">10:00</div>
<div class="t" id="t119" style="top:455.00px;font-size:7.3px;line-height:7.3px;color:#666;font-weight:400;left:353.20px;transform:translateX(-50%);">13:20</div>
<div class="t" id="t120" style="top:467.00px;font-size:8px;line-height:8px;color:#666;font-weight:400;left:232.50px;transform:translateX(-50%);">Time</div>
<div class="t" id="t121" style="top:466.00px;font-size:8px;line-height:8px;color:#333;font-weight:700;left:431.50px;transform:scaleX(0.8211);transform-origin:0 0;">Pace</div>
<div class="t" id="t122" style="top:477.00px;font-size:8px;line-height:8px;color:#333;font-weight:700;left:431.50px;transform:scaleX(0.7778);transform-origin:0 0;">SPM</div>
<div class="t" id="t123" style="top:488.00px;font-size:8px;line-height:8px;color:#333;font-weight:700;left:431.50px;transform:scaleX(0.93);transform-origin:0 0;">Heart Rate</div>
<div class="t" style="left:30.3px;top:356.7px;font-size:7.5px;line-height:7.5px;color:#666;transform:translate(-50%,-50%) rotate(-90deg)">Pace</div>
<div class="t" style="left:427.4px;top:357.2px;font-size:7.5px;line-height:7.5px;color:#666;transform:translate(-50%,-50%) rotate(90deg)">Stroke Rate</div>
<div class="t" style="left:467.3px;top:356.6px;font-size:7.5px;line-height:7.5px;color:#666;transform:translate(-50%,-50%) rotate(90deg)">Heart Rate</div>
<div class="t" style="left:35.4px;top:209.7px;font-size:8.4px;line-height:9px;color:#fff;font-weight:400;-webkit-text-stroke:0.25px #fff">Edit</div>
<div class="t" style="left:80.2px;top:209.7px;font-size:8.4px;line-height:9px;color:#fff;font-weight:400;-webkit-text-stroke:0.25px #fff">Delete</div>
</body></html>
